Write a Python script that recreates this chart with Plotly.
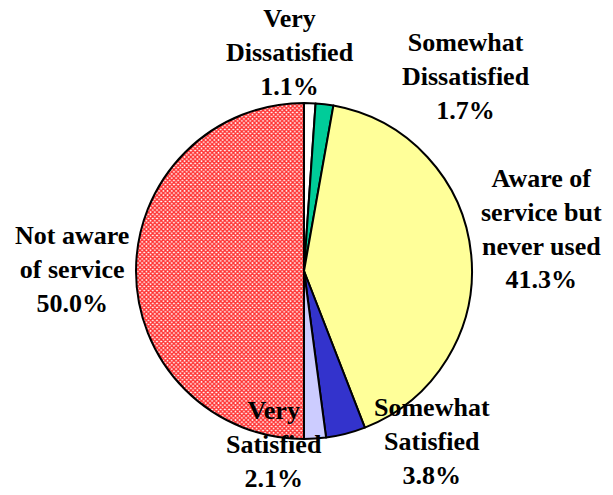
import plotly.graph_objects as go

categories = ["Very Dissatisfied", "Somewhat Dissatisfied", "Aware of service but never used",
              "Somewhat Satisfied", "Very Satisfied", "Not aware of service"]
label_lines = [["Very", "Dissatisfied"], ["Somewhat", "Dissatisfied"],
               ["Aware of", "service but", "never used"], ["Somewhat", "Satisfied"],
               ["Very", "Satisfied"], ["Not aware", "of service"]]
values = [1.1, 1.7, 41.3, 3.8, 2.1, 50.0]

colors = ["#FFFFFF", "#00CC99", "#FFFF99", "#3333CC", "#CCCCFF", "#FFFFFF"]
shapes = ["", "", "", "", "", "x"]
fgcolors = ["#000000"] * 5 + ["#FF3030"]

# label centres in pixels (layout only)
label_pos = [(290, 52), (466, 76), (541, 229), (432, 441), (274, 444), (72, 269)]

W, H = 613, 495
cx, cy, r = 304, 271, 168

fig = go.Figure(go.Pie(
    labels=categories, values=values, sort=False, direction="clockwise", rotation=0,
    textinfo="none", hoverinfo="label+percent",
    marker=dict(colors=colors, line=dict(color="black", width=2),
                pattern=dict(shape=shapes, fgcolor=fgcolors, bgcolor=colors, size=3, solidity=0.7)),
    domain=dict(x=[(cx - r) / W, (cx + r) / W], y=[1 - (cy + r) / H, 1 - (cy - r) / H]),
    showlegend=False,
))

for lines, v, (px, py) in zip(label_lines, values, label_pos):
    txt = "<br>".join(f"<b>{s}</b>" for s in lines + [f"{v:.1f}%"])
    fig.add_annotation(x=px / W, y=1 - py / H, xref="paper", yref="paper",
                       text=txt, showarrow=False, xanchor="center", yanchor="middle",
                       font=dict(family="Liberation Serif, Times New Roman, serif", size=26, color="black"))

fig.update_layout(width=W, height=H, margin=dict(l=0, r=0, t=0, b=0),
                  paper_bgcolor="white", plot_bgcolor="white")
fig.write_html("out.html", config={"displayModeBar": False},
               post_script="document.body.style.margin='0px';")
